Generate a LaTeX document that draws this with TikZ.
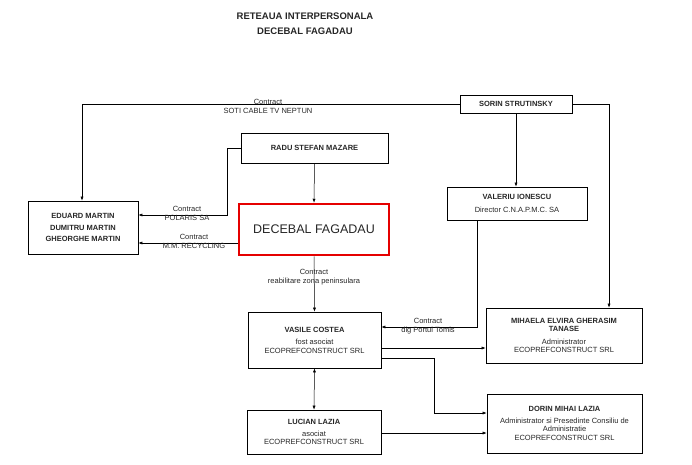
\documentclass[tikz,border=0pt]{standalone}
\usepackage{fontspec}
\setmainfont{Liberation Sans}
\usetikzlibrary{arrows.meta}
\begin{document}
\begin{tikzpicture}[x=1pt,y=-1pt,
  bx/.style={draw,line width=0.6pt,inner sep=0pt,align=center,font=\fontsize{7.5}{8.5}\selectfont},
  lb/.style={font=\fontsize{7.5}{9}\selectfont,inner sep=0pt,align=center},
  ar/.style={-{Latex[length=4pt,width=3pt]},line width=0.5pt},
  every node/.style={text=black!85}]
\useasboundingbox (0,0) rectangle (692,464);
\node[font=\bfseries\fontsize{9.5}{11}\selectfont,align=center] (t) at (305,24) {RETEAUA INTERPERSONALA\\[4pt]DECEBAL FAGADAU};
\node[bx,minimum width=112pt,minimum height=18pt] (sorin) at (516,104) {\bfseries SORIN STRUTINSKY};
\node[bx,minimum width=147pt,minimum height=30pt] (radu) at (314.5,148) {\bfseries RADU STEFAN MAZARE};
\node[bx,minimum width=110pt,minimum height=53pt] (ed) at (83,227.5) {\bfseries EDUARD MARTIN\\[3pt]\bfseries DUMITRU MARTIN\\[3pt]\bfseries GHEORGHE MARTIN};
\node[draw=red!90!black,line width=2.5pt,minimum width=150pt,minimum height=51pt,font=\fontsize{12.5}{14}\selectfont] (dec) at (314,229.5) {DECEBAL FAGADAU};
\node[bx,minimum width=140pt,minimum height=33pt] (val) at (517,203.5) {\bfseries VALERIU IONESCU\\[5pt]Director C.N.A.P.M.C. SA};
\node[bx,minimum width=133pt,minimum height=56pt] (vas) at (314.5,340) {\bfseries VASILE COSTEA\\[4pt]fost asociat\\ECOPREFCONSTRUCT SRL};
\node[bx,minimum width=156pt,minimum height=55pt] (mih) at (564,335.5) {\bfseries MIHAELA ELVIRA GHERASIM\\\bfseries TANASE\\[4pt]Administrator\\ECOPREFCONSTRUCT SRL};
\node[bx,minimum width=134pt,minimum height=44pt] (luc) at (314,432) {\bfseries LUCIAN LAZIA\\[3pt]asociat\\ECOPREFCONSTRUCT SRL};
\node[bx,minimum width=155pt,minimum height=59pt] (dor) at (564.5,423.5) {\bfseries DORIN MIHAI LAZIA\\[3pt]Administrator si Presedinte Consiliu de\\Administratie\\ECOPREFCONSTRUCT SRL};
% connectors
\draw[ar] (sorin.west) -- (82,104) -- (ed.north -| 82,0);
\node[lb] (l1) at (268,106) {Contract\\SOTI CABLE TV NEPTUN};
\draw[ar] (radu.west) -- (227,148) -- (227,215) -- (ed.east |- 0,215);
\node[lb] (l2) at (187,213) {Contract\\POLARIS SA};
\draw[ar] (dec.west |- 0,243) -- (ed.east |- 0,243);
\node[lb] (l3) at (194,241) {Contract\\M.M. RECYCLING};
\draw[ar] (radu.south) -- (dec.north);
\draw[ar] (dec.south) -- (vas.north);
\node[lb] (l4) at (314,277) {Contract\\reabilitare zona peninsulara};
\draw[ar] (sorin.south) -- (val.north -| sorin.south);
\draw[ar] (sorin.east) -- (609,104) -- (mih.north -| 609,0);
\draw[ar] (val.south -| 477,0) -- (477,327) -- (vas.east |- 0,327);
\node[lb] (l5) at (428,326) {Contract\\dig Portul Tomis};
\draw[ar] (vas.east |- 0,348) -- (mih.west |- 0,348);
\draw[ar] (vas.east |- 0,358) -- (434,358) -- (434,413) -- (dor.west |- 0,413);
\draw[{Latex[length=4pt,width=3pt]}-{Latex[length=4pt,width=3pt]},line width=0.5pt] (vas.south) -- (luc.north);
\draw[ar] (luc.east |- 0,433) -- (dor.west |- 0,433);
\end{tikzpicture}
\end{document}
